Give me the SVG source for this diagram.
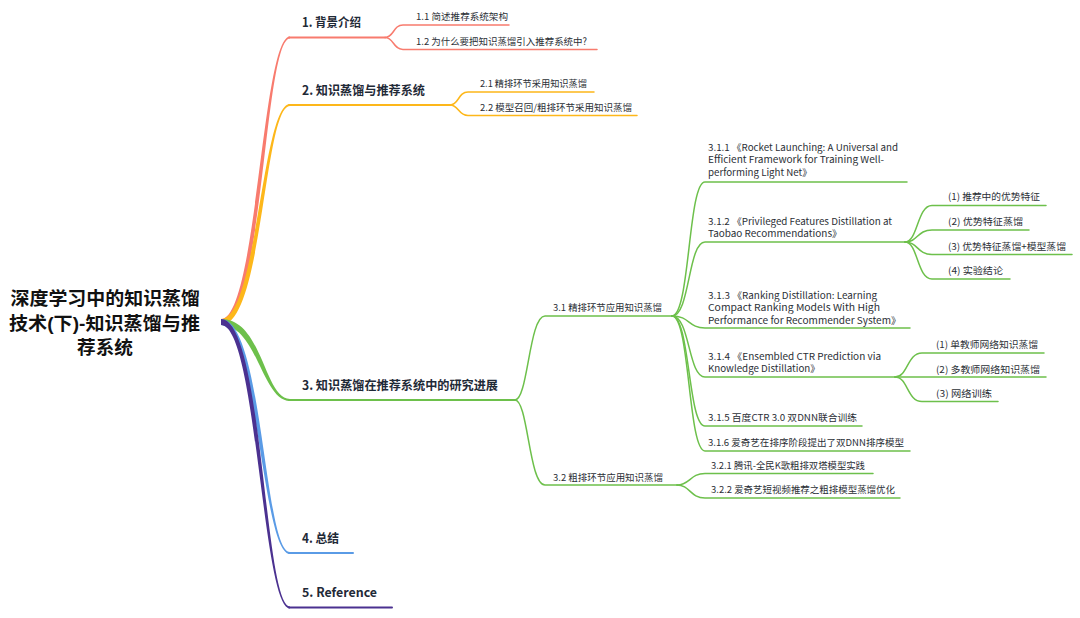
<svg xmlns="http://www.w3.org/2000/svg" width="1080" height="618" viewBox="0 0 1080 618">
<style>
text{font-family:"Noto Sans CJK SC","Noto Sans",sans-serif;}
.t0{font-family:"Liberation Sans","Noto Sans CJK SC",sans-serif;font-size:18.5px;font-weight:bold;fill:#111;}
.t1{font-size:12.5px;font-weight:bold;fill:#1f2a37;}
.t2{font-size:9.5px;fill:#2b2f36;}
.ln{fill:none;stroke-width:1.5;stroke-linecap:round;}
.hl{fill:none;stroke-width:2;stroke-linecap:round;}
.r{stroke:#f87b6e;} .o{stroke:#fdb71a;} .g{stroke:#6dc04b;} .b{stroke:#5a9be6;} .p{stroke:#4b3190;}
</style>
<rect width="1080" height="618" fill="#fff"/>
<g id="connectors">
  <path fill="#f87b6e" d="M221,319 C257,319 262,36.5 290,36.5 L290,38.5 C264,38.5 263,325 221,325 Z"/>
  <path class="hl r" d="M289,37.5 L385,37.5"/>
  <path fill="#fdb71a" d="M221,319 C257,319 262,104 290,104 L290,106 C264,106 263,325 221,325 Z"/>
  <path class="hl o" d="M289,105 L450,105"/>
  <path fill="#6dc04b" d="M221,319 C263,319 264,399 290,399 L290,401 C262,401 257,325 221,325 Z"/>
  <path class="hl g" d="M289,400 L515,400"/>
  <path fill="#5a9be6" d="M221,319 C263,319 264,552 290,552 L290,554 C262,554 257,325 221,325 Z"/>
  <path class="hl b" d="M289,553 L353,553"/>
  <path fill="#4b3190" d="M221,319 C263,319 264,606.5 290,606.5 L290,608.5 C262,608.5 257,325 221,325 Z"/>
  <path class="hl p" d="M289,607.5 L392,607.5"/>
  <path class="ln r" d="M385,37.5 C394,37.5 393,25 403,25 L509,25"/>
  <path class="ln r" d="M385,37.5 C394,37.5 393,49.5 403,49.5 L597,49.5"/>
  <path class="ln o" d="M450,105 C459,105 458,92 468,92 L594,92"/>
  <path class="ln o" d="M450,105 C459,105 458,115.5 468,115.5 L637,115.5"/>
  <path class="ln g" d="M515,400 C528,400 529,316 545,316 L672,316"/>
  <path class="ln g" d="M515,400 C528,400 529,485 545,485 L677,485"/>
  <path class="ln g" d="M672,316 C690,316 688,182 705,182 L907,182"/>
  <path class="ln g" d="M672,316 C690,316 688,242 705,242 L905,242"/>
  <path class="ln g" d="M672,316 C690,316 688,328 705,328 L910,328"/>
  <path class="ln g" d="M672,316 C690,316 688,377 705,377 L895,377"/>
  <path class="ln g" d="M672,316 C690,316 688,426 705,426 L862,426"/>
  <path class="ln g" d="M672,316 C690,316 688,451 705,451 L910,451"/>
  <path class="ln g" d="M905,242 C918,242 917,205.5 932,205.5 L1046,205.5"/>
  <path class="ln g" d="M905,242 C918,242 917,230 932,230 L1029,230"/>
  <path class="ln g" d="M905,242 C918,242 917,254.5 932,254.5 L1072,254.5"/>
  <path class="ln g" d="M905,242 C918,242 917,279 932,279 L1010,279"/>
  <path class="ln g" d="M895,377 C908,377 907,353 922,353 L1044,353"/>
  <path class="ln g" d="M895,377 L1046,377"/>
  <path class="ln g" d="M895,377 C908,377 907,401.5 922,401.5 L998,401.5"/>
  <path class="ln g" d="M677,485 C690,485 690,473.5 705,473.5 L873,473.5"/>
  <path class="ln g" d="M677,485 C690,485 690,498 705,498 L900,498"/>
</g>
<g id="root">
  <text class="t0" x="10.5" y="305" textLength="189.5" lengthAdjust="spacingAndGlyphs">深度学习中的知识蒸馏</text>
  <text class="t0" x="9" y="329.5" textLength="191" lengthAdjust="spacingAndGlyphs">技术(下)-知识蒸馏与推</text>
  <text class="t0" x="77" y="354" textLength="56" lengthAdjust="spacingAndGlyphs">荐系统</text>
</g>
<g id="n1"><text class="t1" x="302" y="27" textLength="59" lengthAdjust="spacingAndGlyphs">1. 背景介绍</text></g>
<g id="n1-1"><text class="t2" x="416" y="20" textLength="92" lengthAdjust="spacingAndGlyphs">1.1 简述推荐系统架构</text></g>
<g id="n1-2"><text class="t2" x="416" y="44.5" textLength="171" lengthAdjust="spacingAndGlyphs">1.2 为什么要把知识蒸馏引入推荐系统中?</text></g>
<g id="n2"><text class="t1" x="302" y="94.5" textLength="123" lengthAdjust="spacingAndGlyphs">2. 知识蒸馏与推荐系统</text></g>
<g id="n2-1"><text class="t2" x="480" y="87" textLength="107" lengthAdjust="spacingAndGlyphs">2.1 精排环节采用知识蒸馏</text></g>
<g id="n2-2"><text class="t2" x="480" y="110.5" textLength="152" lengthAdjust="spacingAndGlyphs">2.2 模型召回/粗排环节采用知识蒸馏</text></g>
<g id="n3"><text class="t1" x="302" y="390" textLength="196" lengthAdjust="spacingAndGlyphs">3. 知识蒸馏在推荐系统中的研究进展</text></g>
<g id="n3-1"><text class="t2" x="553" y="311" textLength="109" lengthAdjust="spacingAndGlyphs">3.1 精排环节应用知识蒸馏</text></g>
<g id="n3-2"><text class="t2" x="553" y="480.5" textLength="110" lengthAdjust="spacingAndGlyphs">3.2 粗排环节应用知识蒸馏</text></g>
<g id="n3-1-1">
  <text class="t2" x="708" y="150.5" textLength="190" lengthAdjust="spacingAndGlyphs">3.1.1 《Rocket Launching: A Universal and</text>
  <text class="t2" x="708" y="163" textLength="176" lengthAdjust="spacingAndGlyphs">Efficient Framework for Training Well-</text>
  <text class="t2" x="708" y="175.5" textLength="104" lengthAdjust="spacingAndGlyphs">performing Light Net》</text>
</g>
<g id="n3-1-2">
  <text class="t2" x="708" y="224.5" textLength="184" lengthAdjust="spacingAndGlyphs">3.1.2 《Privileged Features Distillation at</text>
  <text class="t2" x="708" y="237" textLength="134" lengthAdjust="spacingAndGlyphs">Taobao Recommendations》</text>
</g>
<g id="n3-1-2-1"><text class="t2" x="948" y="200" textLength="92" lengthAdjust="spacingAndGlyphs">(1) 推荐中的优势特征</text></g>
<g id="n3-1-2-2"><text class="t2" x="948" y="225" textLength="75" lengthAdjust="spacingAndGlyphs">(2) 优势特征蒸馏</text></g>
<g id="n3-1-2-3"><text class="t2" x="948" y="249.5" textLength="118" lengthAdjust="spacingAndGlyphs">(3) 优势特征蒸馏+模型蒸馏</text></g>
<g id="n3-1-2-4"><text class="t2" x="948" y="274" textLength="55" lengthAdjust="spacingAndGlyphs">(4) 实验结论</text></g>
<g id="n3-1-3">
  <text class="t2" x="708" y="298.5" textLength="169" lengthAdjust="spacingAndGlyphs">3.1.3 《Ranking Distillation: Learning</text>
  <text class="t2" x="708" y="311" textLength="172" lengthAdjust="spacingAndGlyphs">Compact Ranking Models With High</text>
  <text class="t2" x="708" y="323.5" textLength="193" lengthAdjust="spacingAndGlyphs">Performance for Recommender System》</text>
</g>
<g id="n3-1-4">
  <text class="t2" x="708" y="359.5" textLength="173" lengthAdjust="spacingAndGlyphs">3.1.4 《Ensembled CTR Prediction via</text>
  <text class="t2" x="708" y="372" textLength="112" lengthAdjust="spacingAndGlyphs">Knowledge Distillation》</text>
</g>
<g id="n3-1-4-1"><text class="t2" x="936" y="348" textLength="102" lengthAdjust="spacingAndGlyphs">(1) 单教师网络知识蒸馏</text></g>
<g id="n3-1-4-2"><text class="t2" x="936" y="372.5" textLength="104" lengthAdjust="spacingAndGlyphs">(2) 多教师网络知识蒸馏</text></g>
<g id="n3-1-4-3"><text class="t2" x="936" y="397" textLength="56" lengthAdjust="spacingAndGlyphs">(3) 网络训练</text></g>
<g id="n3-1-5"><text class="t2" x="708" y="421" textLength="149" lengthAdjust="spacingAndGlyphs">3.1.5 百度CTR 3.0 双DNN联合训练</text></g>
<g id="n3-1-6"><text class="t2" x="708" y="446" textLength="196" lengthAdjust="spacingAndGlyphs">3.1.6 爱奇艺在排序阶段提出了双DNN排序模型</text></g>
<g id="n3-2-1"><text class="t2" x="711" y="468.5" textLength="154" lengthAdjust="spacingAndGlyphs">3.2.1 腾讯-全民K歌粗排双塔模型实践</text></g>
<g id="n3-2-2"><text class="t2" x="711" y="493" textLength="184" lengthAdjust="spacingAndGlyphs">3.2.2 爱奇艺短视频推荐之粗排模型蒸馏优化</text></g>
<g id="n4"><text class="t1" x="302" y="542.5" textLength="37" lengthAdjust="spacingAndGlyphs">4. 总结</text></g>
<g id="n5"><text class="t1" x="302" y="597" textLength="75" lengthAdjust="spacingAndGlyphs">5. Reference</text></g>
</svg>
